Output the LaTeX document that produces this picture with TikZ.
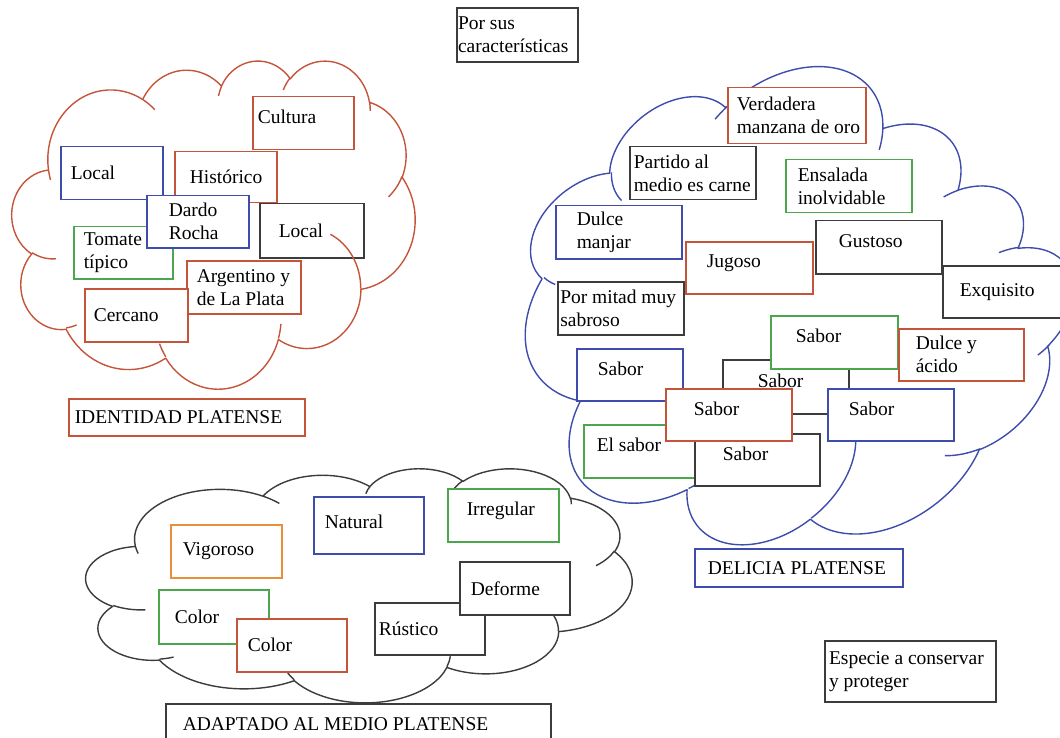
\documentclass[tikz,border=0pt]{standalone}
\usepackage{fontspec}
\setmainfont{Liberation Serif}
\definecolor{boxred}{RGB}{196,84,58}
\definecolor{boxblue}{RGB}{62,76,172}
\definecolor{boxgreen}{RGB}{76,166,76}
\definecolor{boxorange}{RGB}{230,145,56}
\definecolor{boxgray}{RGB}{60,60,60}
\tikzstyle{box} = [rectangle, draw, fill=white, line width=1.5pt, inner sep=0pt,
    align=flush left, anchor=north west, font=\fontsize{19.5}{23}\selectfont]
\tikzstyle{high} = [text depth=13pt]
\tikzstyle{cloudline} = [line width=1.4pt, line join=round]
\tikzset{pad/.style={execute at begin node={\leftskip=#1pt}}}
% one puff of the cloud outline: x radius, y radius, start and sweep angle
\newcommand{\puff}[4]{arc[x radius=#1, y radius=#2,
    start angle={atan2(#1*sin(#3),#2*cos(#3))},
    delta angle={mod(atan2(#1*sin(#3+#4),#2*cos(#3+#4))-atan2(#1*sin(#3),#2*cos(#3))+720,360)}]}
% cloud outline in a 43.2 x 43.2 frame
\newcommand{\cloudpath}{(3.900,14.370)
    \puff{6.753}{9.190}{-190.4875}{123.7805}
    \puff{5.333}{7.267}{-144.1024}{89.9452}
    \puff{4.365}{5.945}{-145.8079}{99.7230}
    \puff{4.857}{6.595}{-130.9861}{117.2417}
    \puff{5.333}{7.273}{-78.7089}{109.0269}
    \puff{6.775}{9.220}{-46.2673}{130.2690}
    \puff{5.785}{7.867}{0.6250}{114.0333}
    \puff{6.752}{9.215}{22.4516}{115.1726}
    \puff{7.720}{10.543}{66.2426}{75.7110}
    \puff{4.360}{5.918}{-274.9421}{146.7356}
    \puff{4.345}{5.945}{-246.8285}{152.5189} -- cycle
    (4.693,26.177) \puff{4.345}{5.945}{86.7420}{26.4295}
    (6.928,34.899) \puff{4.360}{5.918}{73.6105}{11.4475}
    (16.478,39.090) \puff{6.752}{9.215}{137.6242}{14.0811}
    (28.827,34.751) \puff{6.752}{9.215}{6.4533}{15.9984}
    (34.129,22.954) \puff{5.785}{7.867}{-70.2924}{70.9174}
    (41.798,15.354) \puff{5.333}{7.273}{30.3180}{27.7515}
    (38.324,5.426) \puff{4.857}{6.595}{-13.7443}{14.8589}
    (29.078,3.952) \puff{4.857}{6.595}{-149.1815}{18.1954}
    (22.141,4.720) \puff{4.365}{5.945}{-163.4943}{17.6864}
    (14.000,5.192) \puff{6.753}{9.190}{-66.7070}{12.3194}
    (4.127,15.789) \puff{6.753}{9.190}{157.6544}{11.8582}}

\begin{document}
\begin{tikzpicture}[x=1pt, y=-1pt]
    \useasboundingbox (0,0) rectangle (1060,738);
    % Draw clouds behind the boxes
    \begin{scope}[shift={(781.6,316.3)}, rotate=-51.9, x=11.227pt, y=-11.921pt, shift={(-21.6,-21.6)}]
        \draw [cloudline, boxblue] \cloudpath;
    \end{scope}
    \begin{scope}[shift={(86,468)}, x=12.639pt, y=-5.417pt]
        \draw [cloudline, boxgray] \cloudpath;
    \end{scope}

    % Identidad platense
    \node [box, draw=boxred, text width=101pt, minimum height=53pt, pad=5, high] (cultura) at (252,96) {Cultura};
    \node [box, draw=boxblue, text width=102pt, minimum height=53pt, pad=10] (localA) at (60,146) {Local};
    \node [box, draw=boxred, text width=102pt, minimum height=51pt, pad=15] (historico) at (174,151) {Histórico};
    \node [box, draw=boxgray, text width=104pt, minimum height=54pt, pad=19] (localB) at (259,203) {Local};
    \node [box, draw=boxgreen, text width=99pt, minimum height=52pt, pad=10] (tomate) at (73,226) {Tomate\\típico};
    \node [box, draw=boxblue, text width=102pt, minimum height=52pt, pad=22] (dardo) at (146,195) {Dardo\\Rocha};
    \node [box, draw=boxred, text width=114pt, minimum height=53pt, pad=10] (argentino) at (186,260) {Argentino y\\de La Plata};
    \node [box, draw=boxred, text width=103pt, minimum height=53pt, pad=9] (cercano) at (84,288) {Cercano};
    \node [box, draw=boxred, text width=236pt, minimum height=37pt, pad=6] (identidad) at (68,398) {IDENTIDAD PLATENSE};
    \begin{scope}[shift={(12,60)}, x=9.329pt, y=-7.593pt]
        \draw [cloudline, boxred] \cloudpath;
    \end{scope}

    % Delicia platense
    \node [box, draw=boxred, text width=138pt, minimum height=56pt, pad=9] (verdadera) at (727,87) {Verdadera\\manzana de oro};
    \node [box, draw=boxgray, text width=126pt, minimum height=53pt, pad=4] (partido) at (629,146) {Partido al\\medio es carne};
    \node [box, draw=boxgreen, text width=126pt, minimum height=53pt, pad=12] (ensalada) at (785,159) {Ensalada\\inolvidable};
    \node [box, draw=boxblue, text width=126pt, minimum height=53pt, pad=21] (manjar) at (555,205) {Dulce\\manjar};
    \node [box, draw=boxred, text width=127pt, minimum height=52pt, pad=21, high] (jugoso) at (685,241) {Jugoso};
    \node [box, draw=boxgray, text width=126pt, minimum height=53pt, pad=23, high] (gustoso) at (815,220) {Gustoso};
    \node [box, draw=boxgray, text width=126pt, minimum height=52pt, pad=17] (exquisito) at (942,265) {Exquisito};
    \node [box, draw=boxgray, text width=126pt, minimum height=53pt, pad=2.5] (mitad) at (557,281) {Por mitad muy\\sabroso};
    \node [box, draw=boxblue, text width=106pt, minimum height=52pt, pad=21, high] (saborA) at (576,348) {Sabor};
    \node [box, draw=boxgray, text width=126pt, minimum height=54pt, pad=35, high] (saborC) at (722,359) {Sabor};
    \node [box, draw=boxgreen, text width=127pt, minimum height=53pt, pad=25, high] (saborB) at (770,315) {Sabor};
    \node [box, draw=boxred, text width=125pt, minimum height=52pt, pad=17] (acido) at (898,328) {Dulce y\\ácido};
    \node [box, draw=boxgreen, text width=126pt, minimum height=53pt, pad=13, high] (elsabor) at (583,424) {El sabor};
    \node [box, draw=boxgray, text width=125pt, minimum height=52pt, pad=28, high] (saborF) at (694,433) {Sabor};
    \node [box, draw=boxred, text width=126pt, minimum height=52pt, pad=28, high] (saborD) at (665,388) {Sabor};
    \node [box, draw=boxblue, text width=126pt, minimum height=52pt, pad=21, high] (saborE) at (827,388) {Sabor};
    \node [box, draw=boxblue, text width=208pt, minimum height=38pt, pad=13] (delicia) at (694,548) {DELICIA PLATENSE};

    % Adaptado al medio platense
    \node [box, draw=boxorange, text width=111pt, minimum height=53pt, pad=12] (vigoroso) at (170,524) {Vigoroso};
    \node [box, draw=boxblue, text width=110pt, minimum height=57pt, pad=11, text depth=7pt] (natural) at (313,496) {Natural};
    \node [box, draw=boxgreen, text width=111pt, minimum height=53pt, pad=19, high] (irregular) at (447,488) {Irregular};
    \node [box, draw=boxgreen, text width=110pt, minimum height=54pt, pad=16] (colorA) at (158,589) {Color};
    \node [box, draw=boxred, text width=110pt, minimum height=53pt, pad=11] (colorB) at (236,618) {Color};
    \node [box, draw=boxgray, text width=110pt, minimum height=52pt, pad=4] (rustico) at (374,602) {Rústico};
    \node [box, draw=boxgray, text width=110pt, minimum height=53pt, pad=11] (deforme) at (459,561) {Deforme};
    \node [box, draw=boxgray, text width=385pt, minimum height=40pt, pad=17] (adaptado) at (165,703) {ADAPTADO AL MEDIO PLATENSE};

    % Loose notes
    \node [box, draw=boxgray, line width=2pt, text width=121pt, minimum height=54pt, pad=1] (caract) at (456,7) {Por sus\\características};
    \node [box, draw=boxgray, line width=2pt, text width=171pt, minimum height=61pt, pad=4] (especie) at (824,640) {Especie a conservar\\y proteger};
\end{tikzpicture}
\end{document}
